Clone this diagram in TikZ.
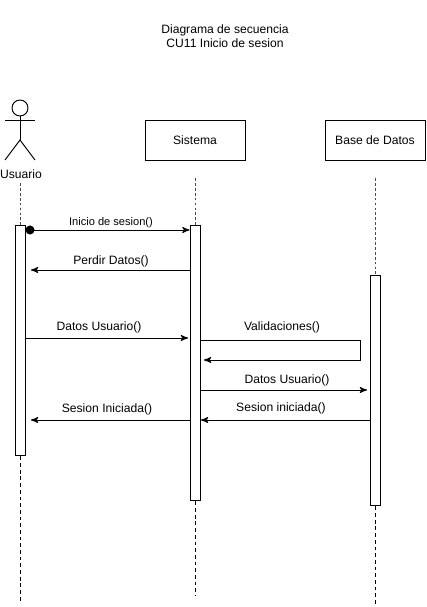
\documentclass[tikz,border=0pt]{standalone}
\usepackage{fontspec}
\setmainfont{Liberation Sans}
\usetikzlibrary{arrows}
\usetikzlibrary{calc}
\tikzset{
	obj/.style={draw,minimum width=2cm,minimum height=0.8cm,inner sep=0pt,font=\fontsize{6.9}{8}\selectfont},
	bar/.style={draw,fill=white,minimum width=0.2cm,inner sep=0pt},
	life/.style={dashed,gray!60!black,dash pattern=on 1.6pt off 1.2pt},
	msg/.style={->,>=stealth'},
	txt/.style={inner sep=0pt,font=\fontsize{6.9}{8}\selectfont},
}
\begin{document}
\begin{tikzpicture}[x=0.02cm,y=-0.02cm,line width=0.55pt]
	\useasboundingbox (0,0) rectangle (426,607);
	%\draw[style=help lines,gray!50] (0,0) grid[step=50] (426,607);
	\node[txt,align=center] at (225,36) (title) {Diagrama de secuencia\\[0.3pt]CU11 Inicio de sesion};

	% actor
	\node[draw,circle,minimum size=0.32cm,inner sep=0pt] at (20,108) (head) {};
	\coordinate (hip) at (20,140);
	\coordinate (armL) at (5,120);
	\coordinate (armR) at (35,120);
	\coordinate (footL) at (5,160);
	\coordinate (footR) at (35,160);
	\draw (head.south) -- (hip);
	\draw (armL) -- (armR);
	\draw (footL) -- (hip) -- (footR);
	\node[txt] at (21,174.5) (usuario) {Usuario};

	\node[obj] at (195,140) (sistema) {Sistema};
	\node[obj] at (375,140) (bd) {Base de Datos};

	% activation bars
	\node[bar,minimum height=4.62cm] at (20,340.5) (actU) {};
	\node[bar,minimum height=5.52cm] at (195,363) (actS) {};
	\node[bar,minimum height=4.62cm] at (375,390.5) (actB) {};

	% life lines
	\coordinate (lifeU0) at (20,183);
	\coordinate (lifeU1) at (20,603);
	\coordinate (lifeS0) at (195,178);
	\coordinate (lifeS1) at (195,596);
	\coordinate (lifeB0) at (375,178);
	\coordinate (lifeB1) at (375,606);
	\draw[life] (lifeU0) -- (actU.north);
	\draw[life] (lifeS0) -- (actS.north);
	\draw[life] (lifeB0) -- (actB.north);
	\draw[dashed,dash pattern=on 2.2pt off 1.6pt] (actU.south) -- (lifeU1);
	\draw[dashed,dash pattern=on 2.2pt off 1.6pt] (actS.south) -- (lifeS1);
	\draw[dashed,dash pattern=on 2.2pt off 1.6pt] (actB.south) -- (lifeB1);

	% messages
	\node[draw,circle,fill=black,minimum size=0.16cm,inner sep=0pt] at (30,230) (dot) {};
	\draw[msg] (dot.center) -- (actS.west |- dot);
	\node[txt,font=\fontsize{6.3}{8}\selectfont] at (111,222.5) (m1) {Inicio de sesion()};

	\coordinate (m2end) at (31,270);
	\draw[msg] (actS.west |- m2end) -- (m2end);
	\node[txt] at (111,261.5) (m2) {Perdir Datos()};

	\coordinate (m3end) at (188,338);
	\draw[msg] (actU.east |- m3end) -- (m3end);
	\node[txt] at (99,327.5) (m3) {Datos Usuario()};

	\coordinate (m4a) at (360,340);
	\coordinate (m4b) at (360,360);
	\coordinate (m4end) at (204,360);
	\draw[msg] (actS.east |- m4a) -- (m4a) -- (m4b) -- (m4end);
	\node[txt] at (282,327.5) (m4) {Validaciones()};

	\coordinate (m5end) at (367,390);
	\draw[msg] (actS.east |- m5end) -- (m5end);
	\node[txt] at (287,380.5) (m5) {Datos Usuario()};

	\coordinate (m6end) at (201,420);
	\draw[msg] (actB.west |- m6end) -- (m6end);
	\node[txt] at (281,408.5) (m6) {Sesion iniciada()};

	\coordinate (m7end) at (31,420);
	\draw[msg] (actS.west |- m7end) -- (m7end);
	\node[txt] at (107,409.5) (m7) {Sesion Iniciada()};
\end{tikzpicture}
\end{document}
